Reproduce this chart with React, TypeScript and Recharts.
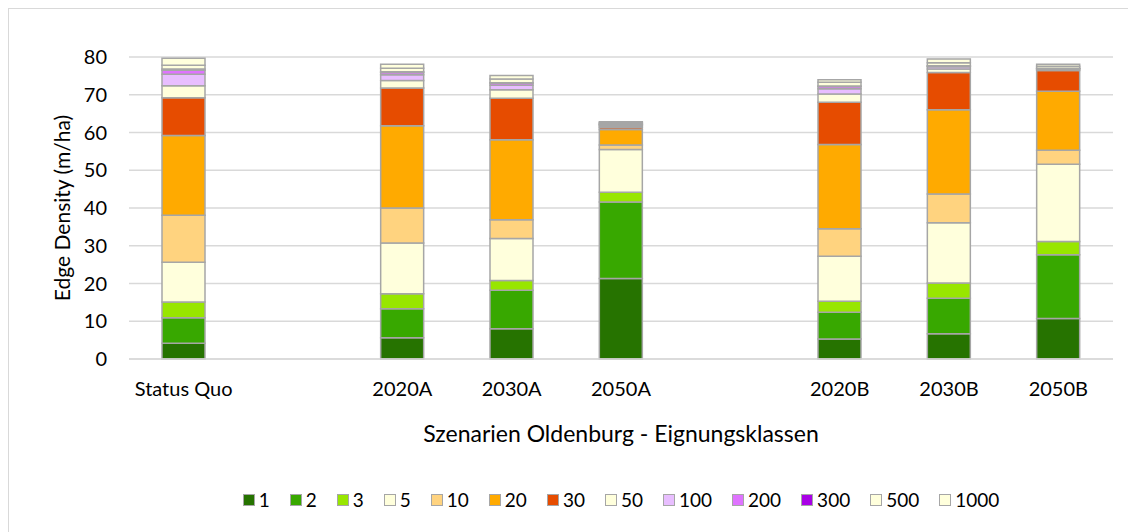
import React from 'react';
import {
  BarChart,
  Bar,
  XAxis,
  YAxis,
  CartesianGrid,
  Legend,
  Label,
} from 'recharts';

const categories = [
  'Status Quo',
  '',
  '2020A',
  '2030A',
  '2050A',
  ' ',
  '2020B',
  '2030B',
  '2050B',
];

// Eignungsklassen (legend order)
const classes = ['1', '2', '3', '5', '10', '20', '30', '50', '100', '200', '300', '500', '1000'];

// values per category, null = empty slot between scenario groups
const c1 = [4.2, null, 5.6, 8.0, 21.3, null, 5.3, 6.7, 10.7];
const c2 = [6.7, null, 7.7, 10.2, 20.3, null, 7.1, 9.4, 16.9];
const c3 = [4.2, null, 4.0, 2.6, 2.6, null, 2.9, 4.0, 3.5];
const c5 = [10.5, null, 13.4, 11.1, 11.3, null, 11.9, 16.0, 20.5];
const c10 = [12.5, null, 9.3, 5.0, 1.2, null, 7.3, 7.6, 3.7];
const c20 = [21.1, null, 21.8, 21.2, 4.1, null, 22.3, 22.3, 15.6];
const c30 = [10.0, null, 10.0, 11.0, 0.5, null, 11.2, 9.9, 5.5];
const c50 = [3.2, null, 2.0, 2.2, 0.4, null, 2.2, 0.9, 0.3];
const c100 = [3.0, null, 1.5, 1.2, 0.3, null, 1.4, 0.6, 0.2];
const c200 = [1.1, null, 0.6, 0.6, 0.2, null, 0.6, 0.2, 0.1];
const c300 = [0.3, null, 0.2, 0.1, 0.05, null, 0.1, 0.05, 0.05];
const c500 = [1.0, null, 0.9, 1.0, 0.3, null, 1.0, 0.8, 0.5];
const c1000 = [1.9, null, 1.1, 0.9, 0.3, null, 0.7, 1.0, 0.5];

const seriesValues = [c1, c2, c3, c5, c10, c20, c30, c50, c100, c200, c300, c500, c1000];

const colors = [
  '#267300',
  '#38a800',
  '#98e600',
  '#ffffdc',
  '#ffd37f',
  '#ffaa00',
  '#e64c00',
  '#ffffdc',
  '#e8beff',
  '#df73ff',
  '#a900e6',
  '#ffffdc',
  '#ffffdc',
];

const yTicks = [0, 10, 20, 30, 40, 50, 60, 70, 80];

const data = categories.map((name, i) => {
  const row: Record<string, string | number | null> = { name };
  classes.forEach((c, k) => {
    row['k' + c] = seriesValues[k][i];
  });
  return row;
});

const FONT = 'Lato, "Open Sans", sans-serif';
const GRID = '#d9d9d9';
const EDGE = '#a6a6a6';

// legend drawn in class order (recharts would sort it by name)
const LegendContent = () => (
  <div
    style={{
      display: 'flex',
      justifyContent: 'center',
      alignItems: 'center',
      gap: 20,
      fontFamily: FONT,
      fontSize: 19,
      color: '#000',
    }}
  >
    {classes.map((c, k) => (
      <div key={c} style={{ display: 'flex', alignItems: 'center' }}>
        <span
          style={{
            display: 'inline-block',
            width: 10,
            height: 10,
            background: colors[k],
            border: `1.5px solid ${EDGE}`,
            marginRight: 4,
          }}
        />
        <span>{c}</span>
      </div>
    ))}
  </div>
);

const App = () => (
  <div
    style={{
      width: 1128,
      height: 524,
      borderTop: `1.5px solid ${GRID}`,
      borderLeft: `1.5px solid ${GRID}`,
      boxSizing: 'border-box',
      background: '#fff',
    }}
  >
    <BarChart
      width={1126}
      height={522}
      data={data}
      barSize={43}
      margin={{ top: 48, right: 22, left: 0, bottom: 112 }}
      style={{ fontFamily: FONT }}
    >
      <CartesianGrid vertical={false} stroke={GRID} strokeWidth={1.5} />
      <XAxis
        dataKey="name"
        interval={0}
        tickLine={false}
        axisLine={{ stroke: GRID, strokeWidth: 1.5 }}
        tick={{ fill: '#000', fontSize: 20 }}
        tickMargin={17}
        height={60}
      >
        <Label
          content={({ viewBox }: any) => (
            <text
              x={viewBox.x + viewBox.width / 2}
              y={424}
              textAnchor="middle"
              dominantBaseline="central"
              fontSize={23}
              fill="#000"
            >
              Szenarien Oldenburg - Eignungsklassen
            </text>
          )}
        />
      </XAxis>
      <YAxis
        width={120}
        domain={[0, 80]}
        ticks={yTicks}
        interval={0}
        axisLine={false}
        tickLine={false}
        tickMargin={16}
        tick={{ fill: '#000', fontSize: 20 }}
      >
        <Label
          content={({ viewBox }: any) => {
            const cx = 52;
            const cy = viewBox.y + viewBox.height / 2;
            return (
              <text
                x={cx}
                y={cy}
                transform={`rotate(-90 ${cx} ${cy})`}
                textAnchor="middle"
                dominantBaseline="central"
                fontSize={21}
                fill="#000"
              >
                Edge Density (m/ha)
              </text>
            );
          }}
        />
      </YAxis>
      <Legend
        verticalAlign="middle"
        align="center"
        layout="horizontal"
        content={<LegendContent />}
        wrapperStyle={{ top: 479, left: 120, width: 984 }}
      />
      {classes.map((c, k) => (
        <Bar
          key={c}
          dataKey={'k' + c}
          name={c}
          stackId="a"
          fill={colors[k]}
          stroke={EDGE}
          strokeWidth={1.5}
          isAnimationActive={false}
        />
      ))}
    </BarChart>
  </div>
);

export default App;
